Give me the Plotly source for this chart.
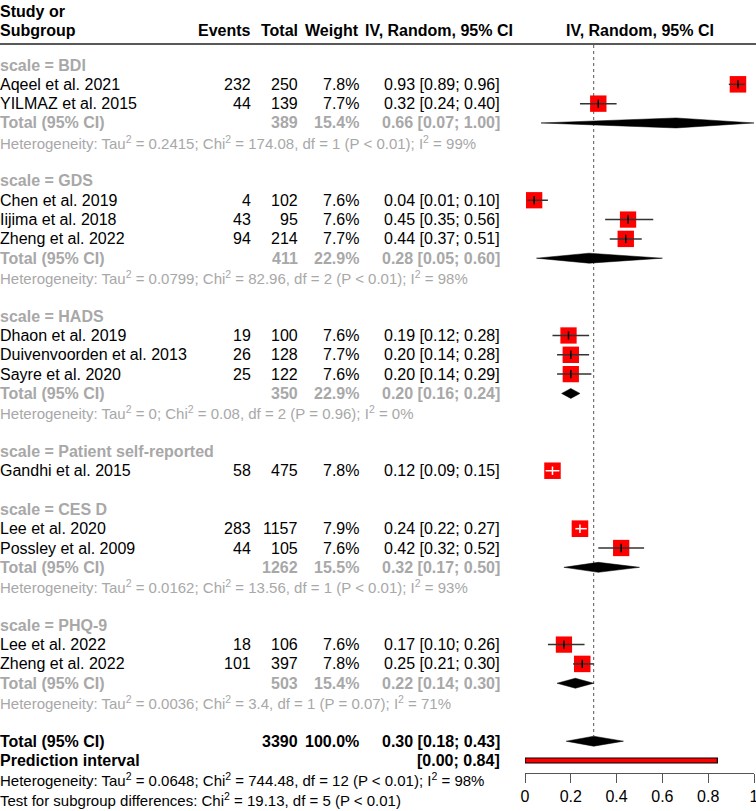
import math
import plotly.graph_objects as go

# ---------------- data ----------------
subgroups = ["BDI", "GDS", "HADS", "Patient self-reported", "CES D", "PHQ-9"]
study_names = [
    ["Aqeel et al. 2021", "YILMAZ et al. 2015"],
    ["Chen et al. 2019", "Iijima et al. 2018", "Zheng et al. 2022"],
    ["Dhaon et al. 2019", "Duivenvoorden et al. 2013", "Sayre et al. 2020"],
    ["Gandhi et al. 2015"],
    ["Lee et al. 2020", "Possley et al. 2009"],
    ["Lee et al. 2022", "Zheng et al. 2022"],
]
events = [[232, 44], [4, 43, 94], [19, 26, 25], [58], [283, 44], [18, 101]]
totals = [[250, 139], [102, 95, 214], [100, 128, 122], [475], [1157, 105], [106, 397]]
weights = [[7.8, 7.7], [7.6, 7.6, 7.7], [7.6, 7.7, 7.6], [7.8], [7.9, 7.6], [7.6, 7.8]]
est = [[0.93, 0.32], [0.04, 0.45, 0.44], [0.19, 0.20, 0.20], [0.12], [0.24, 0.42], [0.17, 0.25]]
lower = [[0.89, 0.24], [0.01, 0.35, 0.37], [0.12, 0.14, 0.14], [0.09], [0.22, 0.32], [0.10, 0.21]]
upper = [[0.96, 0.40], [0.10, 0.56, 0.51], [0.28, 0.28, 0.29], [0.15], [0.27, 0.52], [0.26, 0.30]]

sub_total_n = [389, 411, 350, None, 1262, 503]
sub_weight = [15.4, 22.9, 22.9, None, 15.5, 15.4]
sub_est = [0.66, 0.28, 0.20, None, 0.32, 0.22]
sub_lo = [0.07, 0.05, 0.16, None, 0.17, 0.14]
sub_hi = [1.00, 0.60, 0.24, None, 0.50, 0.30]
sub_tau2 = ["0.2415", "0.0799", "0", None, "0.0162", "0.0036"]
sub_chi2 = ["174.08", "82.96", "0.08", None, "13.56", "3.4"]
sub_df = [1, 2, 2, None, 1, 1]
sub_p = ["P &lt; 0.01", "P &lt; 0.01", "P = 0.96", None, "P &lt; 0.01", "P = 0.07"]
sub_i2 = ["99%", "98%", "0%", None, "93%", "71%"]

overall_n = 3390
overall_weight = "100.0%"
overall_est, overall_lo, overall_hi = 0.30, 0.18, 0.43
pred_lo, pred_hi = 0.00, 0.84
overall_het = "Heterogeneity: Tau<sup>2</sup> = 0.0648; Chi<sup>2</sup> = 744.48, df = 12 (P &lt; 0.01); I<sup>2</sup> = 98%"
subgroup_test = "Test for subgroup differences: Chi<sup>2</sup> = 19.13, df = 5 (P &lt; 0.01)"

x_ticks = [0, 0.2, 0.4, 0.6, 0.8, 1]
x_ticktext = ["0", "0.2", "0.4", "0.6", "0.8", "1"]

# ---------------- layout helpers ----------------
W, H = 756, 811
ROW0, ROWH = 65.0, 19.32      # pixel of first row, row spacing
AX_Y = 773.0                  # pixel of x-axis line
X0PIX, X1PIX = 525.0, 754.0   # pixel of 0 and 1 on forest axis
PXU = X1PIX - X0PIX

def row2paper(r):
    return 1 - (ROW0 + ROWH * r) / H

def pix2paper(p):
    return 1 - p / H

FONT = "Liberation Sans, Arial, sans-serif"
GRAY = "#a8a8a8"
BLACK = "#000000"
FS = 16
FS_SMALL = 15

X_LABEL, X_EV, X_TOT, X_W, X_CI, X_CIH = 0, 251, 298, 359, 500, 513

annotations = []

def txt(x, r, s, anchor="left", color=BLACK, size=FS, bold=False, ypaper=None):
    if bold:
        s = "<b>" + s + "</b>"
    annotations.append(dict(
        x=x / W, y=row2paper(r) if ypaper is None else ypaper,
        xref="paper", yref="paper", text=s, showarrow=False,
        xanchor=anchor, yanchor="middle", borderpad=0, borderwidth=0,
        font=dict(family=FONT, size=size, color=color),
    ))

# header
txt(X_LABEL, 0, "Study or", bold=True, ypaper=pix2paper(11))
hy = pix2paper(30)
txt(X_LABEL, 0, "Subgroup", bold=True, ypaper=hy)
txt(X_EV, 0, "Events", "right", bold=True, ypaper=hy)
txt(X_TOT, 0, "Total", "right", bold=True, ypaper=hy)
txt(X_W, 0, "Weight", "right", bold=True, ypaper=hy)
txt(X_CIH, 0, "IV, Random, 95% CI", "right", bold=True, ypaper=hy)
txt((X0PIX + X1PIX) / 2, 0, "IV, Random, 95% CI", "center", bold=True, ypaper=hy)

def fmt_ci(e, l, h):
    return f"{e:.2f} [{l:.2f}; {h:.2f}]"

sq_x, sq_y, sq_s = [], [], []
ci_dark_x, ci_dark_y = [], []
ci_white_x, ci_white_y = [], []
tick_dark_x, tick_dark_y, tick_white_x, tick_white_y = [], [], [], []
dia_x, dia_y = [], []
DH = 5.0 / ROWH  # diamond half height (row units)

def add_diamond(e, l, h, r):
    dia_x.extend([l, e, h, e, l, None])
    dia_y.extend([r, r - DH, r, r + DH, r, None])

r = 0
for g, name in enumerate(subgroups):
    txt(X_LABEL, r, "scale = " + name, color=GRAY, bold=True)
    r += 1
    for i, s in enumerate(study_names[g]):
        txt(X_LABEL, r, s)
        txt(X_EV, r, str(events[g][i]), "right")
        txt(X_TOT, r, str(totals[g][i]), "right")
        txt(X_W, r, f"{weights[g][i]:.1f}%", "right")
        txt(X_CI, r, fmt_ci(est[g][i], lower[g][i], upper[g][i]), "right")
        size = 16.5 * math.sqrt(weights[g][i] / 7.8)
        sq_x.append(est[g][i]); sq_y.append(r); sq_s.append(size)
        half = size / 2 / PXU
        inside = (upper[g][i] - est[g][i] < half) and (est[g][i] - lower[g][i] < half)
        if inside:
            ci_white_x.extend([lower[g][i], upper[g][i], None]); ci_white_y.extend([r, r, None])
            tick_white_x.append(est[g][i]); tick_white_y.append(r)
        else:
            ci_dark_x.extend([lower[g][i], upper[g][i], None]); ci_dark_y.extend([r, r, None])
            tick_dark_x.append(est[g][i]); tick_dark_y.append(r)
        r += 1
    if sub_total_n[g] is not None:
        txt(X_LABEL, r, "Total (95% CI)", color=GRAY, bold=True)
        txt(X_TOT, r, str(sub_total_n[g]), "right", color=GRAY, bold=True)
        txt(X_W, r, f"{sub_weight[g]:.1f}%", "right", color=GRAY, bold=True)
        txt(X_CI, r, fmt_ci(sub_est[g], sub_lo[g], sub_hi[g]), "right", color=GRAY, bold=True)
        add_diamond(sub_est[g], sub_lo[g], sub_hi[g], r)
        r += 1
        het = (f"Heterogeneity: Tau<sup>2</sup> = {sub_tau2[g]}; Chi<sup>2</sup> = {sub_chi2[g]}, "
               f"df = {sub_df[g]} ({sub_p[g]}); I<sup>2</sup> = {sub_i2[g]}")
        txt(X_LABEL, r, het, color=GRAY, size=FS_SMALL)
        r += 1
    r += 1

total_row = r
txt(X_LABEL, total_row, "Total (95% CI)", bold=True)
txt(X_TOT, total_row, str(overall_n), "right", bold=True)
txt(X_W, total_row, overall_weight, "right", bold=True)
txt(X_CI, total_row, fmt_ci(overall_est, overall_lo, overall_hi), "right", bold=True)
add_diamond(overall_est, overall_lo, overall_hi, total_row)
pred_row = total_row + 1
txt(X_LABEL, pred_row, "Prediction interval", bold=True)
txt(X_CI, pred_row, f"[{pred_lo:.2f}; {pred_hi:.2f}]", "right", bold=True)
txt(X_LABEL, pred_row + 1, overall_het, size=FS_SMALL)
txt(X_LABEL, pred_row + 2, subgroup_test, size=FS_SMALL)

PH = 2.5 / ROWH
pred_x = [pred_lo, pred_hi, pred_hi, pred_lo, pred_lo]
pred_y = [pred_row - PH, pred_row - PH, pred_row + PH, pred_row + PH, pred_row - PH]

y_top_row = (0 - ROW0) / ROWH
y_bot_row = (AX_Y - ROW0) / ROWH

fig = go.Figure()
# reference line (overall estimate)
fig.add_trace(go.Scatter(
    x=[overall_est, overall_est], y=[(45 - ROW0) / ROWH, total_row - DH],
    mode="lines", line=dict(color="#555555", width=1, dash="dot"),
    xaxis="x2", yaxis="y2", hoverinfo="skip"))
# squares
fig.add_trace(go.Scatter(
    x=sq_x, y=sq_y, mode="markers",
    marker=dict(symbol="square", size=sq_s, color="#ff0000", opacity=1, line=dict(width=0)),
    xaxis="x2", yaxis="y2", hoverinfo="skip"))
# CI lines
fig.add_trace(go.Scatter(x=ci_dark_x, y=ci_dark_y, mode="lines",
                         line=dict(color="#333333", width=1.5), xaxis="x2", yaxis="y2", hoverinfo="skip"))
fig.add_trace(go.Scatter(x=ci_white_x, y=ci_white_y, mode="lines",
                         line=dict(color="#ffffff", width=1.5), xaxis="x2", yaxis="y2", hoverinfo="skip"))
fig.add_trace(go.Scatter(x=tick_dark_x, y=tick_dark_y, mode="markers",
                         marker=dict(symbol="line-ns", size=6, opacity=1, line=dict(color="#000000", width=1.5)),
                         xaxis="x2", yaxis="y2", hoverinfo="skip"))
fig.add_trace(go.Scatter(x=tick_white_x, y=tick_white_y, mode="markers",
                         marker=dict(symbol="line-ns", size=6, opacity=1, line=dict(color="#ffffff", width=1.5)),
                         xaxis="x2", yaxis="y2", hoverinfo="skip"))
# diamonds
fig.add_trace(go.Scatter(x=dia_x, y=dia_y, mode="lines", fill="toself",
                         fillcolor="#000000", line=dict(color="#000000", width=0.5),
                         xaxis="x2", yaxis="y2", hoverinfo="skip"))
# prediction interval
fig.add_trace(go.Scatter(x=pred_x, y=pred_y, mode="lines", fill="toself",
                         fillcolor="#ff0000", line=dict(color="#000000", width=1.2),
                         xaxis="x2", yaxis="y2", hoverinfo="skip"))

shapes = [dict(type="line", xref="paper", yref="paper", x0=0, x1=1,
               y0=pix2paper(44), y1=pix2paper(44), line=dict(color="#222222", width=1.5))]

fig.update_layout(
    width=W, height=H, margin=dict(l=0, r=0, t=0, b=0, autoexpand=False),
    paper_bgcolor="white", plot_bgcolor="rgba(0,0,0,0)",
    showlegend=False, annotations=annotations, shapes=shapes,
    font=dict(family=FONT, size=FS, color=BLACK),
    xaxis2=dict(domain=[X0PIX / W, X1PIX / W], range=[0, 1], anchor="y2",
                tickvals=x_ticks, ticktext=x_ticktext, ticks="outside", ticklen=9,
                tickwidth=1, tickcolor="#555555", showline=True, linecolor="#555555",
                linewidth=1, showgrid=False, zeroline=False, ticklabeloverflow="allow",
                automargin=False,
                tickfont=dict(family=FONT, size=16, color=BLACK)),
    yaxis2=dict(domain=[1 - AX_Y / H, 1], range=[y_bot_row, y_top_row], anchor="x2",
                visible=False, showgrid=False, zeroline=False, automargin=False),
)
fig.write_html("out.html", config={"displayModeBar": False, "staticPlot": True},
               post_script="document.body.style.margin='0px';")
